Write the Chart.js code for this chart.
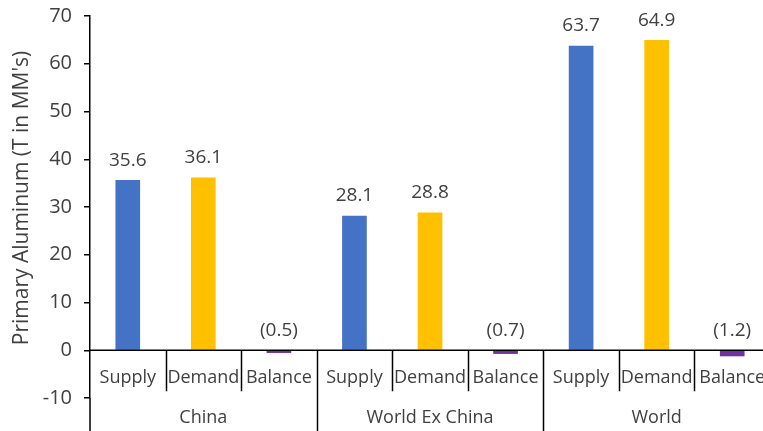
<!DOCTYPE html>
<html>
<head>
<meta charset="utf-8">
<script src="https://cdn.jsdelivr.net/npm/chart.js@4"></script>
<style>
  html, body { margin: 0; padding: 0; background: #fff; overflow: hidden; }
</style>
</head>
<body>
<canvas id="chart" width="770" height="431"></canvas>
<script>
const groups = ['China', 'World Ex China', 'World'];
const categories = ['Supply', 'Demand', 'Balance', 'Supply', 'Demand', 'Balance', 'Supply', 'Demand', 'Balance'];
const values = [35.6, 36.1, -0.5, 28.1, 28.8, -0.7, 63.7, 64.9, -1.2];
const barColors = ['#4472C4', '#FFC000', '#7030A0', '#4472C4', '#FFC000', '#7030A0', '#4472C4', '#FFC000', '#7030A0'];
const yTitle = "Primary Aluminum (T in MM's)";

const fontFam = '"Open Sans", sans-serif';
const textColor = '#404040';

function fmt(v) {
  return v < 0 ? '(' + Math.abs(v).toFixed(1) + ')' : v.toFixed(1);
}

const multiAxis = {
  id: 'multiAxis',
  afterDraw(chart) {
    const ctx = chart.ctx;
    const area = chart.chartArea;
    const x = chart.scales.x;
    const y = chart.scales.y;
    const y0 = y.getPixelForValue(0);
    const w = (area.right - area.left) / categories.length;
    ctx.save();
    ctx.strokeStyle = '#000';
    ctx.lineWidth = 1.5;
    // zero line
    ctx.beginPath();
    ctx.moveTo(area.left, y0);
    ctx.lineTo(area.right, y0);
    ctx.stroke();
    // axis extension below plot
    ctx.beginPath();
    ctx.moveTo(area.left, area.bottom);
    ctx.lineTo(area.left, chart.height);
    ctx.stroke();
    // separators
    for (let i = 1; i < categories.length; i++) {
      const px = Math.round(area.left + i * w) + 0.5;
      ctx.beginPath();
      ctx.moveTo(px, y0);
      ctx.lineTo(px, i % 3 === 0 ? chart.height : y0 + 41);
      ctx.stroke();
    }
    ctx.fillStyle = textColor;
    ctx.font = '18px ' + fontFam;
    ctx.textAlign = 'center';
    ctx.textBaseline = 'middle';
    categories.forEach((c, i) => {
      ctx.fillText(c, x.getPixelForValue(i), y0 + 28);
    });
    groups.forEach((g, i) => {
      ctx.fillText(g, area.left + (i * 3 + 1.5) * w, y0 + 68);
    });
    // data labels
    ctx.font = '19px ' + fontFam;
    values.forEach((v, i) => {
      const top = y.getPixelForValue(Math.max(v, 0));
      ctx.fillText(fmt(v), x.getPixelForValue(i), top - 20);
    });
    // y title
    ctx.font = '21px ' + fontFam;
    ctx.translate(22, 198);
    ctx.rotate(-Math.PI / 2);
    ctx.fillText(yTitle, 0, 0);
    ctx.restore();
  }
};

new Chart(document.getElementById('chart'), {
  type: 'bar',
  data: {
    labels: categories,
    datasets: [{
      data: values,
      backgroundColor: barColors,
      barThickness: 24
    }]
  },
  options: {
    responsive: false,
    animation: false,
    layout: { padding: { top: 0, bottom: 33, left: 0, right: 0 } },
    plugins: { legend: { display: false }, tooltip: { enabled: false } },
    scales: {
      x: { display: false },
      y: {
        min: -10,
        max: 70,
        ticks: { stepSize: 10, color: textColor, font: { size: 20, family: fontFam }, padding: 12 },
        grid: { drawOnChartArea: false, tickLength: 6, color: '#000', lineWidth: 1.5 },
        border: { color: '#000', width: 1.5 },
        title: { display: false },
        afterFit(scale) {
          scale.width = 90;
          scale.paddingTop = 16;
          scale.paddingBottom = 0;
        }
      }
    }
  },
  plugins: [multiAxis]
});
</script>
</body>
</html>
